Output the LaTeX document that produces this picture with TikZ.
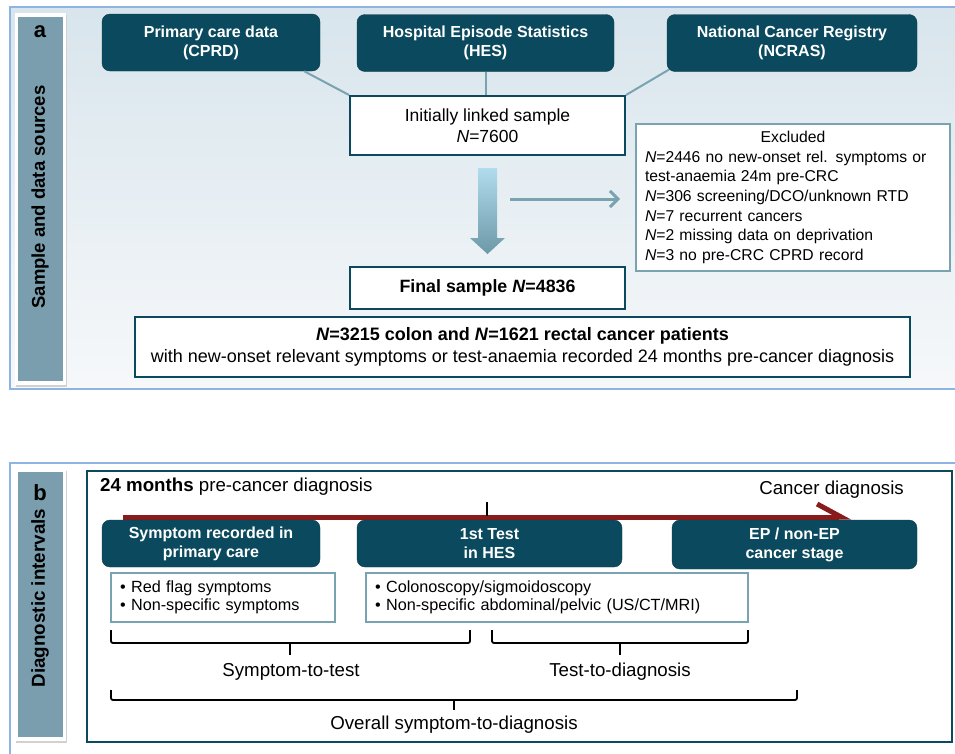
\documentclass[tikz,border=0pt]{standalone}
\usepackage{fontspec}
\setmainfont{Liberation Sans}
\usetikzlibrary{arrows.meta,positioning,calc}
\definecolor{deepteal}{HTML}{0B4A5E}
\definecolor{greyteal}{HTML}{7AA3B2}
\definecolor{sidebar}{HTML}{7A9EAD}
\definecolor{framebl}{HTML}{8DB4E2}
\definecolor{paneltop}{HTML}{D8E5EC}
\definecolor{panelbot}{HTML}{F6F8FA}
\definecolor{darkred}{HTML}{8A1B1B}
\definecolor{arrowtop}{HTML}{B0DCEE}
\definecolor{arrowbot}{HTML}{6C98A7}

\begin{document}
\begin{tikzpicture}[x=1pt,y=-1pt,every node/.style={align=center,inner sep=0pt},
src/.style={draw=deepteal!80!black,fill=deepteal,text=white,rounded corners=8pt,minimum height=57pt,font=\fontsize{16}{19}\selectfont\bfseries},
wbox/.style={draw=deepteal,line width=2pt,fill=white,font=\fontsize{17.5}{21}\selectfont},
lbox/.style={draw=greyteal,line width=2pt,fill=white,align=left,inner xsep=9pt},
link/.style={greyteal,line width=2pt},
brk/.style={line width=1.8pt,rounded corners=2pt},
sidetxt/.style={font=\fontsize{18.5}{20}\selectfont\bfseries,rotate=90},
lbl/.style={font=\fontsize{18.7}{21}\selectfont}]
\useasboundingbox (0,0) rectangle (955,753);
% panel a
\shade[top color=paneltop,bottom color=panelbot] (10,7) rectangle (962,389);
\draw[framebl,line width=1.2pt] (10,7) rectangle (962,389);
\fill[black!18] (16,15) rectangle (67,387);
\fill[white] (15,13) rectangle (66,385);
\fill[sidebar] (18,17) rectangle (63,381);
\node[font=\fontsize{22}{22}\selectfont\bfseries] (taga) at (40,32) {a};
\node[sidetxt] (titlea) at (40,197) {Sample and data sources};
\node[src,minimum width=218pt] (cprd) at (211,42.5) {Primary care data\\(CPRD)};
\node[src,minimum width=257pt] (hes) at (485.5,43) {Hospital Episode Statistics\\(HES)};
\node[src,minimum width=250pt] (ncras) at (792,43) {National Cancer Registry\\(NCRAS)};
\node[wbox,minimum width=275pt,minimum height=59pt] (init) at (487.5,125.5) {Initially linked sample\\\textit{N}=7600};
\node[wbox,minimum width=275pt,minimum height=42pt,font=\fontsize{17.8}{20}\selectfont\bfseries] (final) at (487.5,288) {Final sample \textit{N}=4836};
\node[lbox,text width=296pt,minimum height=147pt,font=\fontsize{15.7}{19.6}\selectfont] (excl) at (793,197.5) {\makebox[296pt][c]{Excluded}\\
\textit{N}=2446 no new-onset rel. symptoms or\\
test-anaemia 24m pre-CRC\\
\textit{N}=306 screening/DCO/unknown RTD\\
\textit{N}=7 recurrent cancers\\
\textit{N}=2 missing data on deprivation\\
\textit{N}=3 no pre-CRC CPRD record};
\node[wbox,minimum width=775pt,minimum height=60pt,font=\fontsize{18}{22}\selectfont] (cohort) at (522.5,347) {\textbf{\textit{N}=3215 colon and \textit{N}=1621 rectal cancer patients}\\with new-onset relevant symptoms or test-anaemia recorded 24 months pre-cancer diagnosis};
\draw[link] ($(cprd.south east)+(-16,0)$) -- (init.north west);
\draw[link] (hes.south) -- (hes.south |- init.north);
\draw[link] ($(ncras.south west)+(2,-2)$) -- (init.north east);
\shade[top color=arrowtop,bottom color=arrowbot] ($(init.south)+(-9.5,12)$) -- ++(19,0) -- ++(0,70) -- ++(8,0) -- ($(final.north)+(0,-12)$) -- ($(init.south)+(-17.5,82)$) -- ++(8,0) -- cycle;
\coordinate (exclfrom) at (510,199);
\draw[link,line width=3pt,-{Straight Barb[length=8pt,width=16pt]},shorten >=15pt] (exclfrom) -- (excl.west |- exclfrom);
% panel b
\draw[framebl,line width=1.2pt,fill=white] (10,463) rectangle (962,762);
\fill[black!18] (16,471) rectangle (67,743);
\fill[white] (15,469) rectangle (66,741);
\fill[sidebar] (18,472) rectangle (63,737);
\node[font=\fontsize{22}{22}\selectfont\bfseries] (tagb) at (40,493) {b};
\node[sidetxt,font=\fontsize{18.8}{20}\selectfont\bfseries] (titleb) at (40,598) {Diagnostic intervals};
\draw[deepteal,line width=2pt] (87,471) rectangle (952,742);
\node[lbl,anchor=west] (pre) at (100,487) {\textbf{24 months} pre-cancer diagnosis};
\node[lbl,anchor=east] (cancerdx) at (904,490) {Cancer diagnosis};
\coordinate (tl0) at (123,517);
\coordinate (tl1) at (851,517);
\draw[darkred,line width=5pt,-{Straight Barb[left,length=24pt,width=26pt]}] (tl0) -- (tl1);
\coordinate (tk0) at (487,502);
\coordinate (tk1) at (487,516);
\draw[line width=1.5pt] (tk0) -- (tk1);
\node[src,minimum width=218pt,minimum height=47pt] (symp) at (211,543.5) {Symptom recorded in\\primary care};
\node[src,minimum width=265pt,minimum height=47pt] (test) at (489.5,543.5) {1st Test\\in HES};
\node[src,minimum width=245pt,minimum height=49pt] (stage) at (794.5,544.5) {EP / non-EP\\cancer stage};
\node[lbox,text width=206pt,minimum height=49pt,font=\fontsize{16.2}{17.5}\selectfont] (sympitems) at (223,597.5) {\textbullet{} Red flag symptoms\\\textbullet{} Non-specific symptoms};
\node[lbox,text width=364pt,minimum height=49pt,font=\fontsize{16.2}{17.5}\selectfont] (testitems) at (557,597.5) {\textbullet{} Colonoscopy/sigmoidoscopy\\\textbullet{} Non-specific abdominal/pelvic (US/CT/MRI)};
\draw[brk] (111,630) -- (111,643) -- (470,643) -- (470,630);
\draw[brk] (290,643) -- (290,655);
\draw[brk] (492,630) -- (492,643) -- (748,643) -- (748,630);
\draw[brk] (620,643) -- (620,655);
\draw[brk] (111,690) -- (111,700) -- (797,700) -- (797,690);
\draw[brk] (454,700) -- (454,710);
\node[lbl] (s2t) at (291,672) {Symptom-to-test};
\node[lbl] (t2d) at (620,672) {Test-to-diagnosis};
\node[lbl] (s2d) at (454,725) {Overall symptom-to-diagnosis};
\end{tikzpicture}
\end{document}
